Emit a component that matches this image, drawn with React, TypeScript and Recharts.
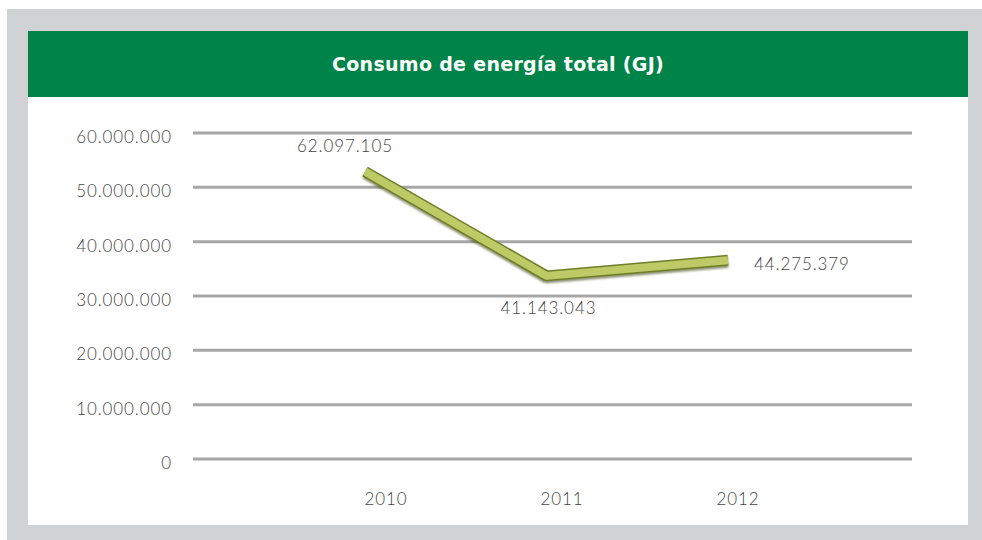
import { CartesianGrid, LabelList, Line, LineChart, XAxis, YAxis } from "recharts";

const years = ["2010", "2011", "2012"];
const consumo = [62097105, 41143043, 44275379];
const yTicks = [0, 10000000, 20000000, 30000000, 40000000, 50000000, 60000000];

// the original is a 3D line: the ribbon sits in front of the back wall, so it reads lower than the grid
const perspectiveDomain = [4350000, 69850000];

const data = years.map((year, i) => ({ year, consumo: consumo[i] }));

const fmt = (v: number) => String(Math.round(v)).replace(/\B(?=(\d{3})+(?!\d))/g, ".");

const FONT = "Lato, 'DejaVu Sans', sans-serif";

// label offsets per point, as placed in the original
const labelOffsets = [
  { dx: -20, dy: -20, anchor: "middle" },
  { dx: 2, dy: 38, anchor: "middle" },
  { dx: 26, dy: 10, anchor: "start" },
];

function ValueLabel(props: any) {
  const { x, y, value, index } = props;
  const o = labelOffsets[index] ?? labelOffsets[0];
  return (
    <text
      x={x + o.dx}
      y={y + o.dy}
      textAnchor={o.anchor}
      fontFamily={FONT}
      fontSize={17}
      fontWeight={300}
      fill="#444"
      letterSpacing={0.9}
    >
      {fmt(value)}
    </text>
  );
}

export default function App() {
  return (
    <div style={{ position: "absolute", left: 0, top: 0, width: 982, height: 540, background: "#fff" }}>
      <div style={{ position: "absolute", left: 7, top: 9, width: 975, height: 531, background: "#d1d2d4" }} />
      <div style={{ position: "absolute", left: 28, top: 31, width: 940, height: 494, background: "#fff" }} />
      <div
        style={{
          position: "absolute",
          left: 28,
          top: 31,
          width: 940,
          height: 66,
          background: "#008348",
          color: "#fff",
          fontFamily: "'DejaVu Sans', sans-serif",
          fontWeight: 700,
          fontSize: 19,
          letterSpacing: 0.3,
          display: "flex",
          alignItems: "center",
          justifyContent: "center",
        }}
      >
        Consumo de energía total (GJ)
      </div>
      <div style={{ position: "absolute", left: 28, top: 97 }}>
        <LineChart width={940} height={428} data={data} margin={{ top: 36, right: 56, bottom: 0, left: 0 }}>
          <defs>
            <filter id="ribbonShadow" x="-10%" y="-30%" width="120%" height="160%">
              <feDropShadow dx="0" dy="2" stdDeviation="1.2" floodColor="#3c4418" floodOpacity="0.6" />
            </filter>
          </defs>
          <CartesianGrid xAxisId="labels" yAxisId="grid" vertical={false} stroke="#a7a7a7" strokeWidth={3} />
          <XAxis
            xAxisId="labels"
            dataKey="year"
            scale="point"
            padding={{ left: 193, right: 174 }}
            axisLine={false}
            tickLine={false}
            tickMargin={28}
            height={66}
            tick={{ fill: "#444", fontSize: 17, fontFamily: FONT, fontWeight: 300, letterSpacing: 0.9 }}
          />
          <XAxis xAxisId="line" dataKey="year" scale="point" padding={{ left: 172, right: 184 }} hide />
          <YAxis
            yAxisId="grid"
            type="number"
            domain={[0, 60000000]}
            allowDataOverflow
            ticks={yTicks}
            interval={0}
            tickFormatter={fmt}
            width={165}
            axisLine={false}
            tickLine={false}
            tickMargin={15}
            tick={{ fill: "#444", fontSize: 17, fontFamily: FONT, fontWeight: 300, letterSpacing: 0.9, dy: 4 }}
          />
          <YAxis yAxisId="line" type="number" orientation="right" domain={perspectiveDomain} allowDataOverflow hide />
          {/* invisible series so the back-wall axes get their scale */}
          <Line
            xAxisId="labels"
            yAxisId="grid"
            dataKey="consumo"
            stroke="none"
            dot={false}
            activeDot={false}
            legendType="none"
            isAnimationActive={false}
          />
          <Line
            xAxisId="line"
            yAxisId="line"
            dataKey="consumo"
            stroke="#6f7f28"
            strokeWidth={11}
            strokeLinejoin="bevel"
            strokeLinecap="butt"
            dot={false}
            activeDot={false}
            filter="url(#ribbonShadow)"
            isAnimationActive={false}
          />
          <Line
            xAxisId="line"
            yAxisId="line"
            dataKey="consumo"
            stroke="#bccb66"
            strokeWidth={8}
            strokeLinejoin="bevel"
            strokeLinecap="butt"
            dot={false}
            activeDot={false}
            isAnimationActive={false}
          >
            <LabelList dataKey="consumo" content={ValueLabel} />
          </Line>
        </LineChart>
      </div>
    </div>
  );
}
